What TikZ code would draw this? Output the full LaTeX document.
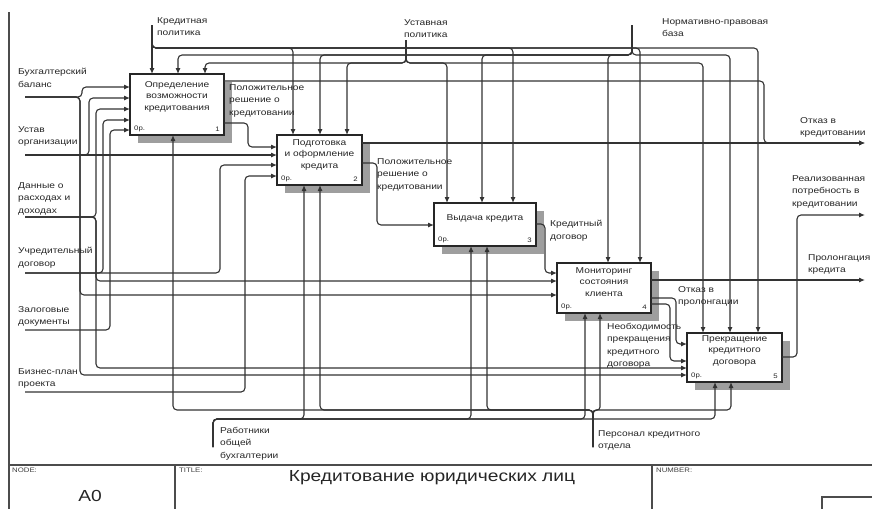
\documentclass[tikz,border=0pt]{standalone}
\usepackage{fontspec}
\setmainfont{Liberation Sans}[FakeStretch=1.2]
\usetikzlibrary{arrows.meta,shadows}

\begin{document}
\begin{tikzpicture}[x=1pt,y=-1pt,
  conn/.style={line width=1.1pt, draw=black!80, rounded corners=4pt, -{Latex[length=6pt,width=5pt]}},
  func/.style={draw=black!85, line width=1.4pt, fill=white, inner sep=0pt, outer sep=0pt, anchor=north west,
    drop shadow={shadow xshift=8pt,shadow yshift=-8pt,fill=black!38,opacity=1}},
  lbl/.style={font=\fontsize{8.5}{12.5}\selectfont, align=left, inner sep=0pt, anchor=north west, text=black!85},
  ftxt/.style={font=\fontsize{8.5}{11.5}\selectfont, align=center, inner sep=0pt, anchor=north, text=black!85},
  cost/.style={font=\fontsize{6.5}{7}\selectfont, inner sep=0pt, anchor=south west, text=black!85},
  numtxt/.style={font=\fontsize{6.5}{7}\selectfont, inner sep=0pt, anchor=south east, text=black!85},
  frame/.style={line width=1.2pt, draw=black!70},
  hdr/.style={font=\fontsize{6.5}{7}\selectfont, inner sep=0pt, anchor=north west, text=black!75}
]
\fill[white] (0,0) rectangle (872,509);
\useasboundingbox (0,0) rectangle (872,509);

% form frame and title block
\draw[frame] (9,12) -- (9,509);
\draw[frame] (9,465) -- (872,465);
\draw[frame] (175,465) -- (175,509);
\draw[frame] (652,465) -- (652,509);
\draw[frame] (872,497) -- (822,497) -- (822,509);
\node[hdr] (hnode) at (12,468) {NODE:};
\node[hdr] (htitle) at (179,468) {TITLE:};
\node[hdr] (hnum) at (656,468) {NUMBER:};
\node[inner sep=0pt, font=\fontsize{16}{18}\selectfont, text=black!85] (nodeid) at (90,496) {A0};
\node[inner sep=0pt, font=\fontsize{16}{18}\selectfont, text=black!85] (title) at (432,478) {Кредитование юридических лиц};

% function blocks
\node[func, minimum width=94pt, minimum height=61pt] (b1) at (130,74) {};
\node[func, minimum width=85pt, minimum height=50pt] (b2) at (277,135) {};
\node[func, minimum width=102pt, minimum height=43pt] (b3) at (434,203) {};
\node[func, minimum width=94pt, minimum height=50pt] (b4) at (557,263) {};
\node[func, minimum width=95pt, minimum height=49pt] (b5) at (687,333) {};

\node[ftxt] (t1) at ([yshift=-7pt]b1.north) {Определение\\возможности\\кредитования};
\node[ftxt] (t2) at ([yshift=-4pt]b2.north) {Подготовка\\и оформление\\кредита};
\node[ftxt] (t3) at ([yshift=-11pt]b3.north) {Выдача кредита};
\node[ftxt] (t4) at ([yshift=-4pt]b4.north) {Мониторинг\\состояния\\клиента};
\node[ftxt] (t5) at ([yshift=-2pt]b5.north) {Прекращение\\кредитного\\договора};

\foreach \b/\n in {b1/1,b2/2,b3/3,b4/4,b5/5}{
  \node[cost] (c\n) at ([xshift=4pt,yshift=3pt]\b.south west) {0р.};
  \node[numtxt] (n\n) at ([xshift=-4pt,yshift=3pt]\b.south east) {\n};
}

% free ends of boundary arrows
\coordinate (inBB) at (25,97);
\coordinate (inUO) at (25,155);
\coordinate (inDR) at (25,217);
\coordinate (inUD) at (25,273);
\coordinate (inZD) at (25,330);
\coordinate (inBP) at (25,392);
\coordinate (cKP) at (152,25);
\coordinate (cUP) at (406,40);
\coordinate (cNP) at (632,25);
\coordinate (mRB) at (213,447);
\coordinate (mPK) at (593,447);
\coordinate (oOK) at (865,143);
\coordinate (oRP) at (865,215);
\coordinate (oPR) at (865,280);

% controls: credit policy
\draw[conn] (cKP) -- (cKP |- b1.north);
\draw[conn] (cKP) -- (152,48) -- (293,48) -- (293,0 |- b2.north);
\draw[conn] (cKP) -- (152,48) -- (513,48) -- (513,0 |- b3.north);
\draw[conn] (cKP) -- (152,48) -- (640,48) -- (640,0 |- b4.north);
\draw[conn] (cKP) -- (152,48) -- (758,48) -- (758,0 |- b5.north);
% controls: regulatory base
\draw[conn] (cNP) -- (632,55) -- (178,55) -- (178,0 |- b1.north);
\draw[conn] (cNP) -- (632,55) -- (320,55) -- (320,0 |- b2.north);
\draw[conn] (cNP) -- (632,55) -- (482,55) -- (482,0 |- b3.north);
\draw[conn] (cNP) -- (632,55) -- (608,55) -- (608,0 |- b4.north);
\draw[conn] (cNP) -- (632,55) -- (730,55) -- (730,0 |- b5.north);
% controls: statutory policy
\draw[conn] (cUP) -- (406,63) -- (205,63) -- (205,0 |- b1.north);
\draw[conn] (cUP) -- (406,63) -- (347,63) -- (347,0 |- b2.north);
\draw[conn] (cUP) -- (406,63) -- (447,63) -- (447,0 |- b3.north);
\draw[conn] (cUP) -- (406,63) -- (703,63) -- (703,0 |- b5.north);

% inputs
\draw[conn] (inBB) -- (82,97) -- (82,87) -- (b1.west |- 0,87);
\draw[conn] (inBB) -- (80,97) -- (80,295) -- (b4.west |- 0,295);
\draw[conn] (inBB) -- (80,97) -- (80,375) -- (b5.west |- 0,375);
\draw[conn] (inUO) -- (b2.west |- 0,155);
\draw[conn] (inUO) -- (89,155) -- (89,98) -- (b1.west |- 0,98);
\draw[conn] (inDR) -- (96,217) -- (96,109) -- (b1.west |- 0,109);
\draw[conn] (inDR) -- (96,217) -- (96,281) -- (b4.west |- 0,281);
\draw[conn] (inDR) -- (96,217) -- (96,368) -- (b5.west |- 0,368);
\draw[conn] (inUD) -- (103,273) -- (103,120) -- (b1.west |- 0,120);
\draw[conn] (inUD) -- (220,273) -- (220,165) -- (b2.west |- 0,165);
\draw[conn] (inZD) -- (110,330) -- (110,130) -- (b1.west |- 0,130);
\draw[conn] (inBP) -- (245,392) -- (245,176) -- (b2.west |- 0,176);

% outputs and links between blocks
\draw[conn] (b1.east |- 0,81) -- (764,81) -- (764,143) -- (oOK);
\draw[conn] (b2.east |- 0,143) -- (oOK);
\draw[conn] (b1.east |- 0,123) -- (248,123) -- (248,147) -- (b2.west |- 0,147);
\draw[conn] (b2.east |- 0,163) -- (377,163) -- (377,225) -- (b3.west |- 0,225);
\draw[conn] (b3.east |- 0,224) -- (545,224) -- (545,273) -- (b4.west |- 0,273);
\draw[conn] (b4.east |- 0,280) -- (oPR);
\draw[conn] (b4.east |- 0,298) -- (676,298) -- (676,344) -- (b5.west |- 0,344);
\draw[conn] (b4.east |- 0,304) -- (670,304) -- (670,361) -- (b5.west |- 0,361);
\draw[conn] (b5.east |- 0,357) -- (797,357) -- (797,215) -- (oRP);

% mechanisms
\draw[conn] (mRB) -- (213,419) -- (304,419) -- (304,0 |- b2.south);
\draw[conn] (mRB) -- (213,419) -- (471,419) -- (471,0 |- b3.south);
\draw[conn] (mRB) -- (213,419) -- (585,419) -- (585,0 |- b4.south);
\draw[conn] (mRB) -- (213,419) -- (715,419) -- (715,0 |- b5.south);
\draw[conn] (mPK) -- (593,410) -- (173,410) -- (173,0 |- b1.south);
\draw[conn] (mPK) -- (593,410) -- (320,410) -- (320,0 |- b2.south);
\draw[conn] (mPK) -- (593,410) -- (487,410) -- (487,0 |- b3.south);
\draw[conn, rounded corners=3pt] (mPK) -- (593,410) -- (600,410) -- (600,0 |- b4.south);
\draw[conn] (mPK) -- (593,410) -- (731,410) -- (731,0 |- b5.south);

% arrow labels
\node[lbl] (lBB) at (18,68) {Бухгалтерский\\баланс};
\node[lbl] (lUO) at (18,126) {Устав\\организации};
\node[lbl] (lDR) at (18,182) {Данные о\\расходах и\\доходах};
\node[lbl] (lUD) at (18,247) {Учредительный\\договор};
\node[lbl] (lZD) at (18,306) {Залоговые\\документы};
\node[lbl] (lBP) at (18,368) {Бизнес-план\\проекта};
\node[lbl] (lKP) at (157,17) {Кредитная\\политика};
\node[lbl] (lUP) at (404,19) {Уставная\\политика};
\node[lbl] (lNP) at (662,18) {Нормативно-правовая\\база};
\node[lbl] (lOK) at (800,117) {Отказ в\\кредитовании};
\node[lbl] (lRP) at (792,175) {Реализованная\\потребность в\\кредитовании};
\node[lbl] (lPR) at (808,254) {Пролонгация\\кредита};
\node[lbl] (lPS1) at (229,84) {Положительное\\решение о\\кредитовании};
\node[lbl] (lPS2) at (377,158) {Положительное\\решение о\\кредитовании};
\node[lbl] (lKD) at (550,220) {Кредитный\\договор};
\node[lbl] (lOP) at (678,286) {Отказ в\\пролонгации};
\node[lbl] (lNK) at (607,323) {Необходимость\\прекращения\\кредитного\\договора};
\node[lbl] (lRB) at (220,427) {Работники\\общей\\бухгалтерии};
\node[lbl] (lPK) at (598,430) {Персонал кредитного\\отдела};
\end{tikzpicture}
\end{document}
